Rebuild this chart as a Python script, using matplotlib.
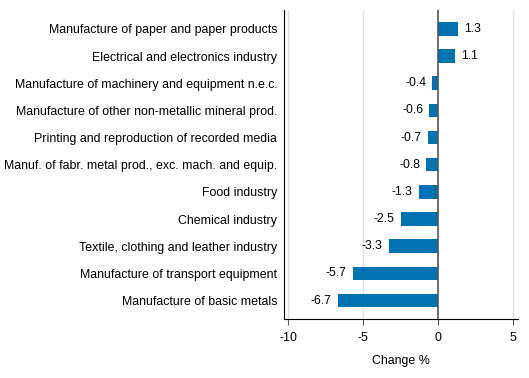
import matplotlib.pyplot as plt

plt.rcParams['font.family'] = ['Liberation Sans', 'DejaVu Sans']

categories = [
    "Manufacture of paper and paper products",
    "Electrical and electronics industry",
    "Manufacture of machinery and equipment n.e.c.",
    "Manufacture of other non-metallic mineral prod.",
    "Printing and reproduction of recorded media",
    "Manuf. of fabr. metal prod., exc. mach. and equip.",
    "Food industry",
    "Chemical industry",
    "Textile, clothing and leather industry",
    "Manufacture of transport equipment",
    "Manufacture of basic metals",
]
values = [1.3, 1.1, -0.4, -0.6, -0.7, -0.8, -1.3, -2.5, -3.3, -5.7, -6.7]
xticks = [-10, -5, 0, 5]

fig = plt.figure(figsize=(5.29, 3.78), dpi=100)
ax = fig.add_axes([0.536, 0.156, 0.443, 0.818])

ypos = list(range(len(categories)))[::-1]
ax.barh(ypos, values, height=0.5, color='#0072b2', zorder=2)

for y, v in zip(ypos, values):
    if v >= 0:
        ax.text(v + 0.4, y, f"{v:.1f}", va='center', ha='left', fontsize=8.8)
    else:
        ax.text(v - 0.4, y, f"{v:.1f}", va='center', ha='right', fontsize=8.8)

ax.set_xlim(-10.3, 5.3)
ax.set_ylim(-0.68, 10.7)
ax.set_yticks(ypos)
ax.set_yticklabels(categories, fontsize=8.9)
ax.tick_params(axis='y', length=0, pad=4.5)
ax.set_xticks(xticks)
ax.set_xticklabels([str(t) for t in xticks], fontsize=8.9)
ax.tick_params(axis='x', length=4, color='#555555', pad=5)

for t in [-10, -5, 5]:
    ax.axvline(t, color='#e0e0e0', linewidth=1, zorder=1)
ax.axvline(0, color='#555555', linewidth=1.2, zorder=3)

ax.spines['top'].set_visible(False)
ax.spines['right'].set_visible(False)
ax.spines['left'].set_color('black')
ax.spines['bottom'].set_color('black')

ax.set_xlabel("Change %", fontsize=8.9, labelpad=8)

fig.savefig("out.png", dpi=100)
